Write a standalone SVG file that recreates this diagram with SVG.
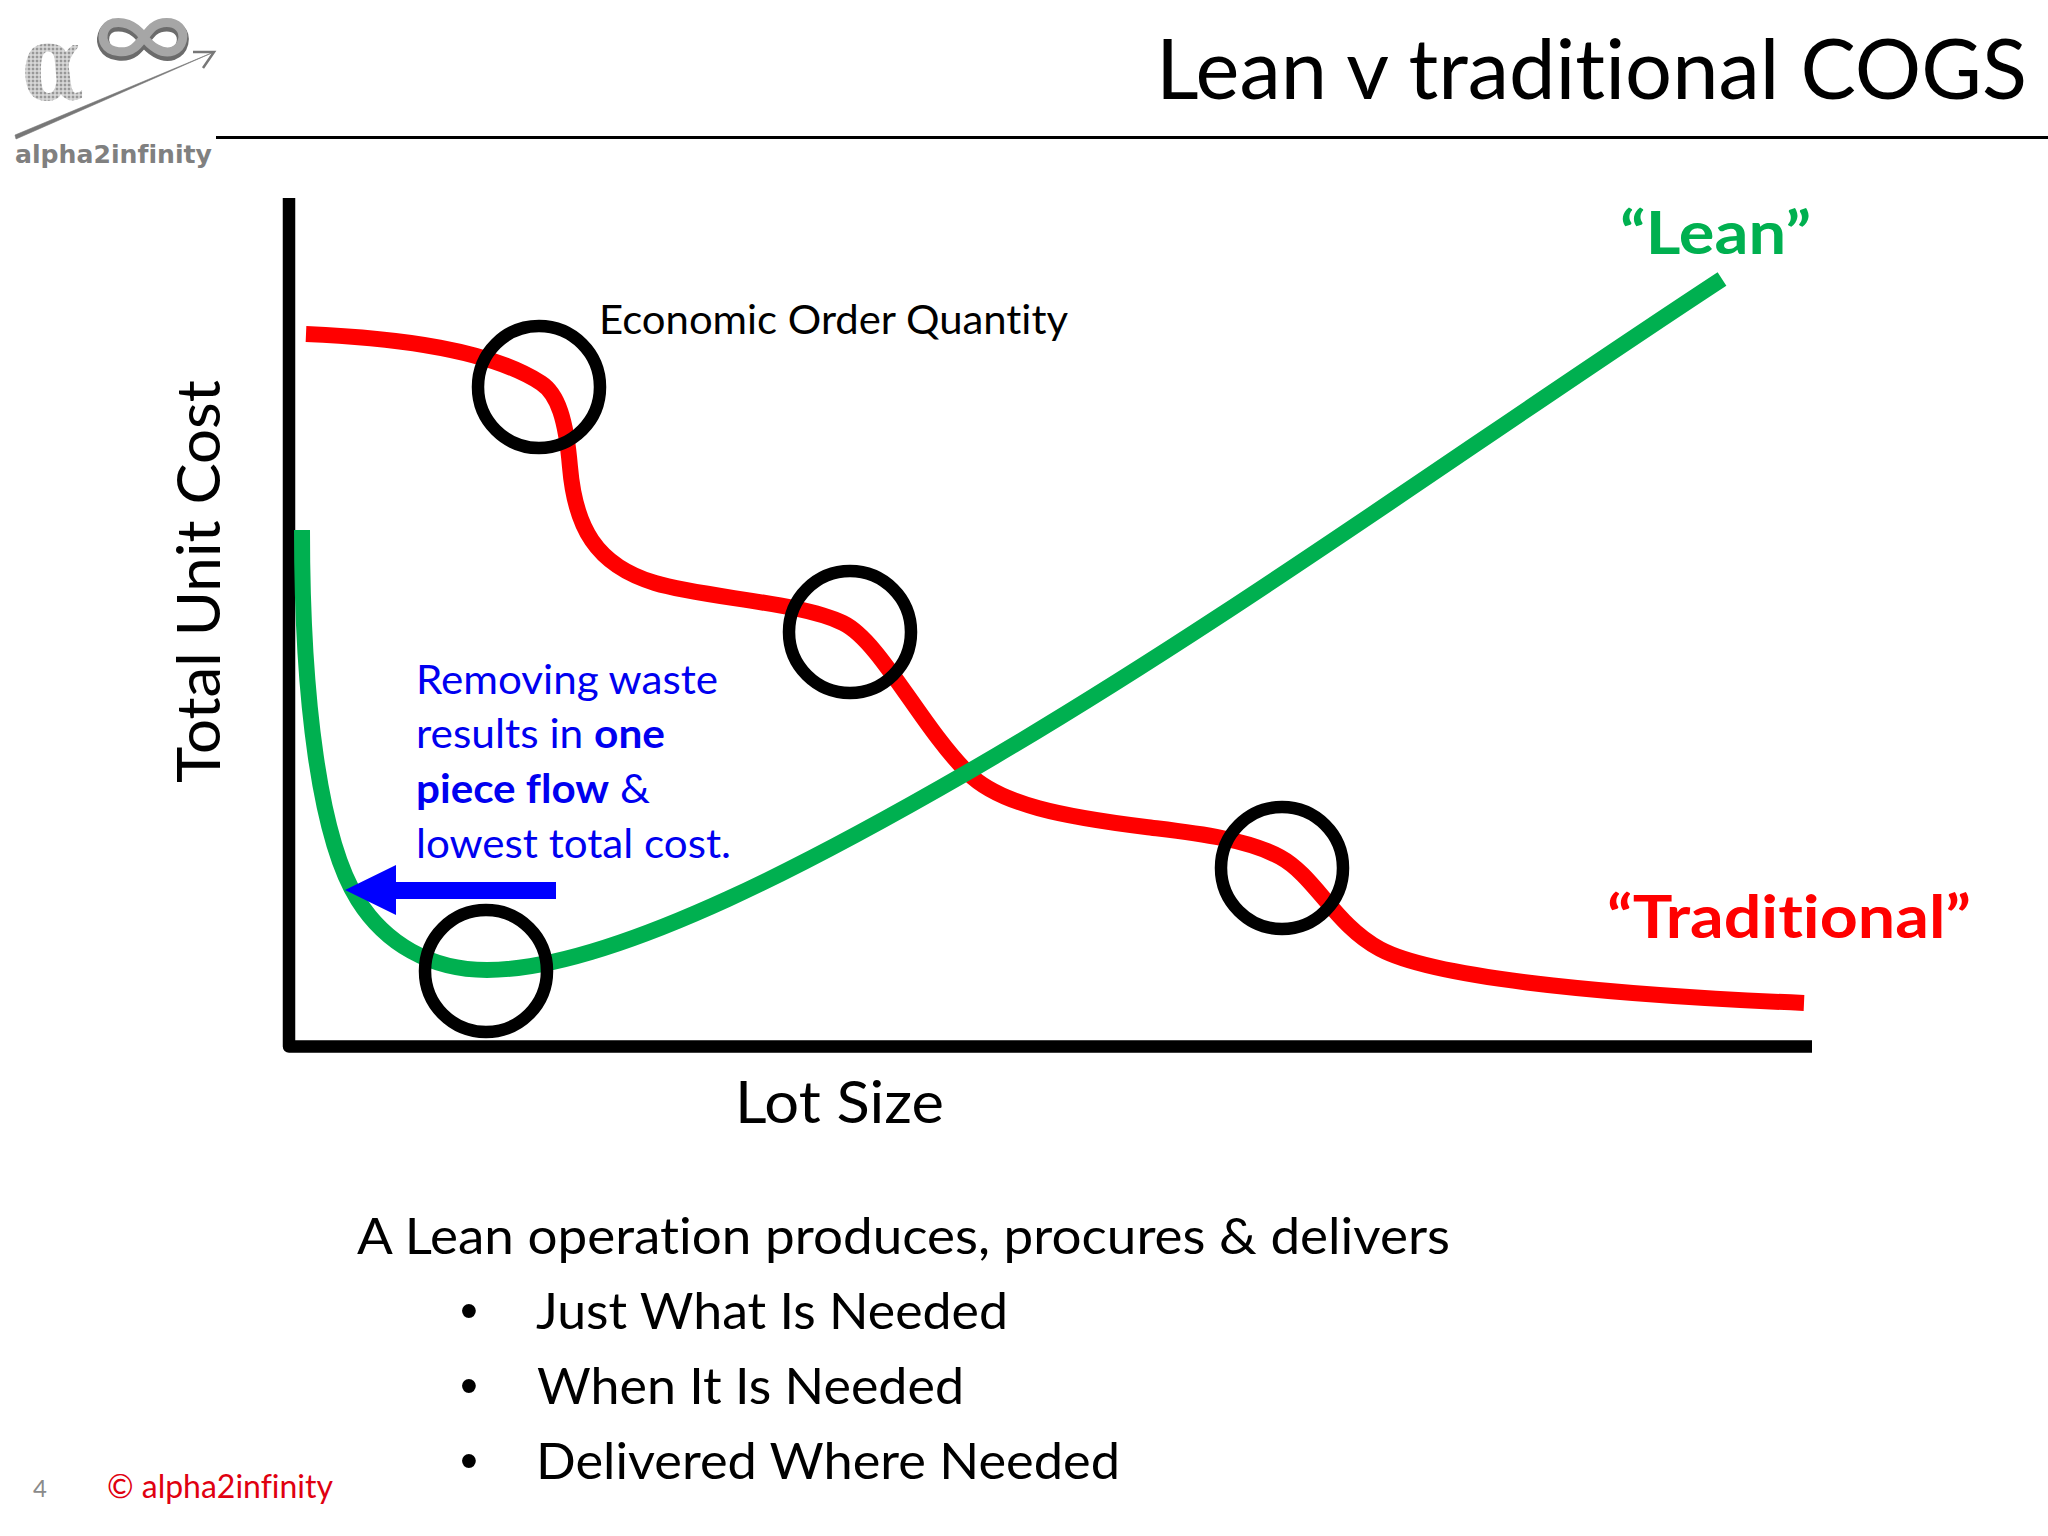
<svg xmlns="http://www.w3.org/2000/svg" width="2048" height="1536" viewBox="0 0 2048 1536">
<style>
text{font-family:"Lato","Open Sans",sans-serif;fill:#000;font-variant-ligatures:none}
.curve{fill:none;stroke-linecap:butt;stroke-linejoin:round}
.ring{fill:none;stroke:#000;stroke-width:12.5}
.blue{fill:#0000f0;font-size:40px}
.body{font-size:51px}
.bullet{font-size:51px;font-family:"Liberation Sans",Arial,sans-serif}
</style>
<defs>
<pattern id="stip" width="4" height="4" patternUnits="userSpaceOnUse"><rect width="4" height="4" fill="#c8c8c8"/><circle cx="1" cy="1" r="0.9" fill="#808080"/><circle cx="3" cy="3" r="0.7" fill="#f2f2f2"/></pattern>
</defs>
<rect width="2048" height="1536" fill="#fff"/>
<g id="logo">
<text x="22" y="100" font-size="104" textLength="62" lengthAdjust="spacingAndGlyphs" style="font-family:'DejaVu Serif',serif;font-weight:700;fill:url(#stip)">α</text>
<path d="M143 39C134 27 122 24 113 26C103 29 101 40 105 47C110 56 126 57 134 51C140 47 147 35 153 30C161 24 173 24 179 30C186 37 183 50 173 54C162 58 150 49 143 39Z" fill="none" stroke="#6b6b6b" stroke-width="12"/>
<path d="M143 36C134 24 122 21 113 23C103 26 101 37 105 44C110 53 126 54 134 48C140 44 147 32 153 27C161 21 173 21 179 27C186 34 183 47 173 51C162 55 150 46 143 36Z" fill="none" stroke="#a6a6a6" stroke-width="9"/>
<path d="M15 135L214 52L16 139Z" fill="#777" stroke="#777" stroke-width="0.6"/>
<path d="M193 52H214L203 68" stroke="#777" stroke-width="2.5" fill="none"/>
<text x="15" y="163" font-size="24" font-weight="700" textLength="197" lengthAdjust="spacingAndGlyphs" style="font-family:'DejaVu Sans',sans-serif;fill:#808080">alpha2infinity</text>
</g>
<g id="header">
<text id="title" x="1156" y="99" font-size="84" textLength="871" lengthAdjust="spacingAndGlyphs">Lean v traditional COGS</text>
<rect x="216" y="136" width="1832" height="3" fill="#000"/>
</g>
<g id="axes">
<path d="M289 198V1046.500H1812" fill="none" stroke="#000" stroke-width="12.500" stroke-linejoin="round"/>
<text id="y-label" transform="translate(220 783) rotate(-90)" font-size="60" textLength="403" lengthAdjust="spacingAndGlyphs">Total Unit Cost</text>
<text id="x-label" x="735" y="1123" font-size="59" textLength="209" lengthAdjust="spacingAndGlyphs">Lot Size</text>
</g>
<g id="connectors">
<path id="traditional-curve" class="curve" stroke="#ff0000" stroke-width="16" d="M306 334C400 338 490 350 541 383C558 394 566 420 570 467C575 526 595 565 655 583C705 598 800 602 843 623C880 641 920 725 968 773C1000 805 1065 817 1146 827C1190 832.500 1245 838 1280 857C1315 876 1335 925 1380 949C1440 981 1640 996 1804 1003"/>
<path id="lean-curve" class="curve" stroke="#00b050" stroke-width="16" d="M302 530C302 700 320 840 358 900C385 943 430 970 487 970C617 970 838 847 968 772C1220 626 1470 444 1722 279"/>
<path id="waste-arrow" fill="#0000ff" d="M345 890L396 865V882H556V899H396V915Z"/>
</g>
<g id="rings">
<circle id="eoq-1" class="ring" cx="539" cy="387" r="61"/>
<circle id="eoq-2" class="ring" cx="850" cy="632" r="61"/>
<circle id="eoq-3" class="ring" cx="1282" cy="868" r="61"/>
<circle id="eoq-lean" class="ring" cx="486" cy="971" r="61"/>
</g>
<g id="labels">
<text id="lean-label" x="1620" y="254" font-size="59" font-weight="700" textLength="191" lengthAdjust="spacingAndGlyphs" style="fill:#00b050">“Lean”</text>
<text id="traditional-label" x="1607" y="938" font-size="59" font-weight="700" textLength="364" lengthAdjust="spacingAndGlyphs" style="fill:#ff0000">“Traditional”</text>
<text id="eoq-label" x="599" y="334" font-size="40" textLength="469" lengthAdjust="spacingAndGlyphs">Economic Order Quantity</text>
<g id="waste-note">
<text class="blue" x="416" y="694" textLength="302" lengthAdjust="spacingAndGlyphs">Removing waste</text>
<text class="blue" x="416" y="748" textLength="249" lengthAdjust="spacingAndGlyphs">results in <tspan font-weight="700">one</tspan></text>
<text class="blue" x="416" y="803" textLength="234" lengthAdjust="spacingAndGlyphs"><tspan font-weight="700">piece flow</tspan> &amp;</text>
<text class="blue" x="416" y="858" textLength="315" lengthAdjust="spacingAndGlyphs">lowest total cost.</text>
</g>
</g>
<g id="body">
<text class="body" x="357" y="1254" textLength="1093" lengthAdjust="spacingAndGlyphs">A Lean operation produces, procures &amp; delivers</text>
<text class="bullet" x="460" y="1328">•</text><text class="body" x="536" y="1329" textLength="472" lengthAdjust="spacingAndGlyphs">Just What Is Needed</text>
<text class="bullet" x="460" y="1403">•</text><text class="body" x="537" y="1404" textLength="427" lengthAdjust="spacingAndGlyphs">When It Is Needed</text>
<text class="bullet" x="460" y="1478">•</text><text class="body" x="536" y="1479" textLength="584" lengthAdjust="spacingAndGlyphs">Delivered Where Needed</text>
</g>
<g id="footer">
<text x="33" y="1497" font-size="24" style="fill:#8a8a8a">4</text>
<text x="107" y="1498" font-size="32" textLength="226" lengthAdjust="spacingAndGlyphs" style="fill:#e00010">© alpha2infinity</text>
</g>
</svg>
